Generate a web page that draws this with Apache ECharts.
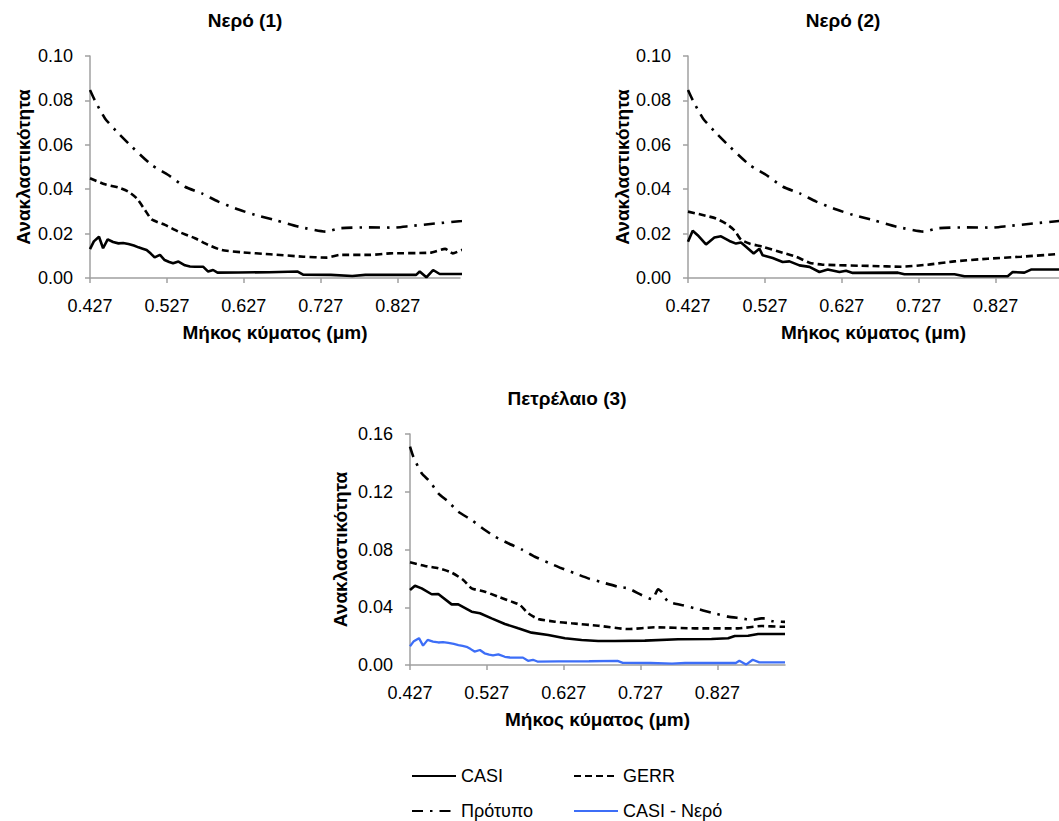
<!DOCTYPE html>
<html>
<head>
<meta charset="utf-8">
<script src="https://cdn.jsdelivr.net/npm/echarts@6/dist/echarts.min.js"></script>
<style>
  html, body { margin: 0; padding: 0; background: #fff; }
  #chart { width: 1059px; height: 821px; }
</style>
</head>
<body>
<div id="chart"></div>
<script>
// Wavelength tick labels (μm)
const xTicks = [0.427, 0.527, 0.627, 0.727, 0.827];

// Reflectance spectra as [wavelength μm, reflectance]
const casiWater1 = [[0.427,0.013],[0.432,0.0165],[0.4387,0.0186],[0.444,0.0134],[0.450,0.0174],[0.457,0.0162],[0.464,0.0156],[0.470,0.0158],[0.477,0.0153],[0.484,0.0146],[0.490,0.0138],[0.4955,0.0132],[0.5006,0.0126],[0.506,0.011],[0.511,0.0093],[0.518,0.0104],[0.524,0.0081],[0.530,0.0072],[0.535,0.0066],[0.542,0.0074],[0.5504,0.0057],[0.557,0.0052],[0.5634,0.0051],[0.574,0.0051],[0.5806,0.0029],[0.587,0.0036],[0.5928,0.0024],[0.62,0.0025],[0.66,0.0026],[0.697,0.0029],[0.704,0.0015],[0.74,0.0014],[0.768,0.0009],[0.785,0.0014],[0.851,0.0014],[0.8556,0.0029],[0.8643,0.0003],[0.873,0.0036],[0.8816,0.0018],[0.915,0.0018]];
const gerrWater1 = [[0.427,0.0449],[0.4465,0.0422],[0.4638,0.0408],[0.4768,0.0389],[0.4877,0.0359],[0.4985,0.0306],[0.5072,0.0264],[0.5245,0.0239],[0.5418,0.0209],[0.5635,0.0179],[0.5808,0.0149],[0.5983,0.0126],[0.624,0.0116],[0.661,0.0107],[0.7044,0.0096],[0.7348,0.0092],[0.752,0.0104],[0.791,0.0104],[0.817,0.0111],[0.8692,0.0114],[0.8886,0.0131],[0.8986,0.0111],[0.9103,0.0126],[0.915,0.0128]];
const refWater = [[0.427,0.0847],[0.4335,0.0799],[0.4465,0.0719],[0.4638,0.0652],[0.4812,0.0592],[0.5072,0.0509],[0.5288,0.0464],[0.5505,0.0411],[0.5722,0.0381],[0.5938,0.0344],[0.6155,0.0314],[0.6415,0.0284],[0.6676,0.0261],[0.6985,0.0231],[0.7334,0.0209],[0.752,0.0224],[0.7868,0.0228],[0.8214,0.0227],[0.843,0.0234],[0.8778,0.0246],[0.9103,0.0257],[0.915,0.0259]];

const casiWater2 = [[0.427,0.0163],[0.4331,0.0213],[0.4396,0.0193],[0.4504,0.0151],[0.4613,0.0182],[0.4699,0.0188],[0.4808,0.0167],[0.4894,0.0155],[0.4959,0.016],[0.5024,0.0141],[0.5124,0.011],[0.5198,0.0132],[0.5241,0.0102],[0.5371,0.009],[0.5501,0.0072],[0.5589,0.0075],[0.5719,0.0057],[0.5849,0.005],[0.5979,0.0027],[0.6087,0.0038],[0.6239,0.0027],[0.6325,0.0033],[0.6412,0.0023],[0.7,0.0024],[0.7084,0.0017],[0.7735,0.0017],[0.7865,0.0008],[0.8427,0.0008],[0.8492,0.0027],[0.8644,0.0024],[0.873,0.0038],[0.915,0.0038]];
const gerrWater2 = [[0.427,0.0299],[0.4461,0.0284],[0.4634,0.0268],[0.4764,0.0245],[0.4873,0.0215],[0.4959,0.0173],[0.5068,0.0155],[0.5241,0.0141],[0.5501,0.0114],[0.5674,0.0096],[0.5849,0.0069],[0.6022,0.006],[0.667,0.0054],[0.704,0.0051],[0.7387,0.006],[0.7734,0.0075],[0.8167,0.0087],[0.86,0.0096],[0.91,0.0108],[0.915,0.0109]];

const casiOil = [[0.427,0.0519],[0.4335,0.0549],[0.4422,0.0531],[0.4552,0.049],[0.4638,0.0492],[0.4812,0.042],[0.4898,0.042],[0.5072,0.0369],[0.518,0.0358],[0.5332,0.0323],[0.5505,0.0284],[0.5678,0.0254],[0.5852,0.0224],[0.6069,0.0208],[0.6286,0.0185],[0.6503,0.0173],[0.6719,0.0166],[0.6936,0.0166],[0.7326,0.0169],[0.7759,0.0178],[0.8193,0.018],[0.841,0.0185],[0.8496,0.0201],[0.867,0.0203],[0.88,0.0215],[0.915,0.0215]];
const gerrOil = [[0.427,0.0711],[0.4465,0.0686],[0.4638,0.067],[0.4812,0.064],[0.4963,0.0589],[0.5072,0.0531],[0.5245,0.0508],[0.5418,0.0473],[0.5592,0.0439],[0.57,0.0416],[0.5808,0.0358],[0.5938,0.0319],[0.6156,0.03],[0.6373,0.0289],[0.6719,0.0272],[0.7109,0.0249],[0.7456,0.0261],[0.7976,0.0254],[0.8539,0.0254],[0.8843,0.027],[0.9103,0.0265],[0.915,0.0265]];
const refOil = [[0.427,0.1512],[0.4313,0.1443],[0.4422,0.1328],[0.453,0.127],[0.4638,0.1189],[0.4768,0.1131],[0.4898,0.1062],[0.5072,0.1004],[0.5245,0.0935],[0.5375,0.0889],[0.5548,0.0843],[0.5722,0.0801],[0.5895,0.075],[0.6069,0.0709],[0.6242,0.067],[0.6416,0.0635],[0.6589,0.06],[0.6741,0.0577],[0.6979,0.0542],[0.7109,0.0531],[0.7283,0.0485],[0.7421,0.0455],[0.7499,0.0524],[0.7542,0.0508],[0.7629,0.0439],[0.7803,0.0416],[0.7976,0.0393],[0.8193,0.0363],[0.8409,0.0335],[0.8583,0.0323],[0.8713,0.0312],[0.8843,0.0323],[0.8886,0.0323],[0.8973,0.0305],[0.9103,0.03],[0.915,0.0299]];

const FONT = '"Liberation Sans", Arial, sans-serif';
const AXIS_GREY = '#a0a0a0';
const TICK_FS = 18;
const NAME_FS = 19;

const STYLES = {
  'CASI':        { color: '#000', type: 'solid', width: 2.6 },
  'GERR':        { color: '#000', type: [7, 4], width: 2.6 },
  'Πρότυπο':     { color: '#000', type: [11, 7, 2.5, 7], width: 2.6 },
  'CASI - Νερό': { color: '#3d6ef7', type: 'solid', width: 2.3 }
};

function line(name, data, idx) {
  const s = STYLES[name];
  return {
    type: 'line', name, data,
    xAxisIndex: idx, yAxisIndex: idx,
    symbol: 'none', smooth: name === 'CASI' || name === 'CASI - Νερό' ? false : 0.2,
    color: s.color,
    lineStyle: { color: s.color, type: s.type, width: s.width },
    clip: true
  };
}

function xAxis(idx, max) {
  return {
    type: 'value', gridIndex: idx, min: 0.427, max,
    name: 'Μήκος κύματος (μm)', nameLocation: 'middle', nameGap: 45,
    nameTextStyle: { fontFamily: FONT, fontSize: NAME_FS, fontWeight: 'bold', color: '#000' },
    axisLine: { lineStyle: { color: AXIS_GREY, width: 1.5 } },
    axisTick: { show: true, length: 5, lineStyle: { color: AXIS_GREY, width: 1.5 }, customValues: xTicks },
    axisLabel: { customValues: xTicks, formatter: v => v.toFixed(3), margin: 19,
                 fontFamily: FONT, fontSize: TICK_FS, color: '#000' },
    splitLine: { show: false }
  };
}

function yAxis(idx, max, interval, gap) {
  return {
    type: 'value', gridIndex: idx, min: 0, max, interval,
    name: 'Ανακλαστικότητα', nameLocation: 'middle', nameGap: gap,
    nameTextStyle: { fontFamily: FONT, fontSize: NAME_FS, fontWeight: 'bold', color: '#000' },
    axisLine: { show: true, lineStyle: { color: AXIS_GREY, width: 1.5 } },
    axisTick: { show: true, length: 5, lineStyle: { color: AXIS_GREY, width: 1.5 } },
    axisLabel: { formatter: v => v.toFixed(2), margin: 17,
                 fontFamily: FONT, fontSize: TICK_FS, color: '#000' },
    splitLine: { show: false }
  };
}

function titleText(text, x, y) {
  return {
    type: 'text', x, y,
    style: { text, fill: '#000', font: 'bold 19px ' + FONT,
             fontSize: 19, fontWeight: 'bold', fontFamily: FONT,
             align: 'center', verticalAlign: 'middle',
             textAlign: 'center', textVerticalAlign: 'middle' }
  };
}

function legendItem(name, left, top) {
  return {
    data: [name], left, top, padding: 0,
    itemWidth: 44, itemHeight: 14, selectedMode: false,
    itemStyle: { color: 'rgba(0,0,0,0)', borderColor: 'rgba(0,0,0,0)', borderWidth: 0 },
    textStyle: { fontFamily: FONT, fontSize: TICK_FS, color: '#000' }
  };
}

const chart = echarts.init(document.getElementById('chart'), null, { renderer: 'svg' });
chart.setOption({
  animation: false,
  backgroundColor: '#fff',
  grid: [
    { left: 90, top: 56, width: 370, height: 222 },
    { left: 688, top: 56, width: 371, height: 222 },
    { left: 410, top: 434, width: 375, height: 231 }
  ],
  xAxis: [xAxis(0, 0.908), xAxis(1, 0.9094), xAxis(2, 0.915)],
  yAxis: [yAxis(0, 0.1, 0.02, 57), yAxis(1, 0.1, 0.02, 56), yAxis(2, 0.16, 0.04, 60)],
  legend: [
    legendItem('CASI', 411, 767),
    legendItem('GERR', 573, 767),
    legendItem('Πρότυπο', 411, 802),
    legendItem('CASI - Νερό', 573, 802)
  ],
  graphic: [
    titleText('Νερό (1)', 245, 20),
    titleText('Νερό (2)', 843, 20),
    titleText('Πετρέλαιο (3)', 567, 398)
  ],
  series: [
    line('CASI', casiWater1, 0),
    line('GERR', gerrWater1, 0),
    line('Πρότυπο', refWater, 0),
    line('CASI', casiWater2, 1),
    line('GERR', gerrWater2, 1),
    line('Πρότυπο', refWater, 1),
    line('CASI', casiOil, 2),
    line('GERR', gerrOil, 2),
    line('Πρότυπο', refOil, 2),
    line('CASI - Νερό', casiWater1, 2)
  ]
});
</script>
</body>
</html>
